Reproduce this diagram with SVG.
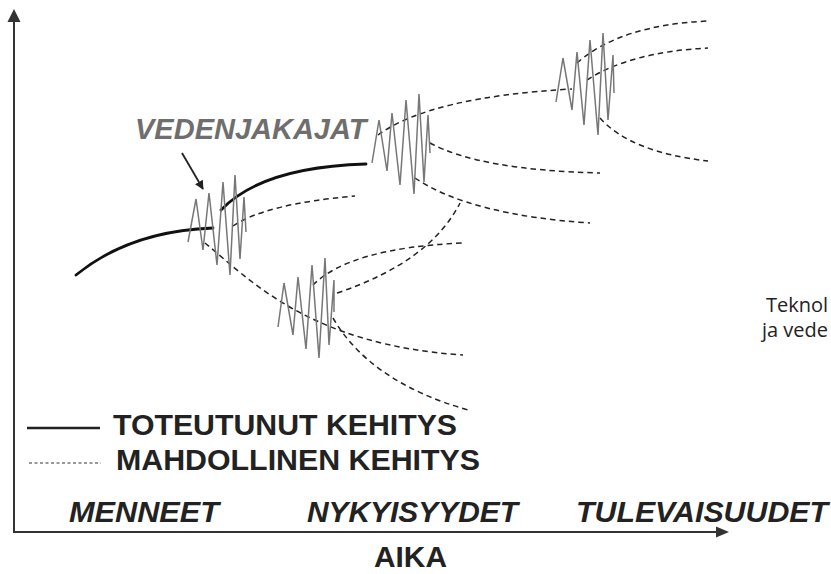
<svg xmlns="http://www.w3.org/2000/svg" width="831" height="574" viewBox="0 0 831 574">
  <defs>
    <marker id="arrowSmall" viewBox="0 0 10 10" refX="9" refY="5" markerWidth="5" markerHeight="5" orient="auto">
      <path d="M0,0 L10,5 L0,10 z" fill="#222"/>
    </marker>
    <style>
      .axis { stroke: #333; stroke-width: 2; fill: none; }
      .actual { stroke: #111; stroke-width: 2.8; fill: none; stroke-linecap: round; }
      .possible { stroke: #222; stroke-width: 1.5; fill: none; stroke-dasharray: 5.5 4; }
      .split { stroke: #777; stroke-width: 1.5; fill: none; stroke-linejoin: miter; }
      .big { font-family: "Liberation Sans", Arial, sans-serif; font-weight: bold; font-size: 29px; fill: #222; }
      .era { font-style: italic; }
      .note { font-family: "Open Sans", "Noto Sans", sans-serif; font-size: 20px; fill: #222; }
    </style>
  </defs>

  <rect width="831" height="574" fill="#fff"/>

  <!-- axes -->
  <g id="axes">
    <line class="axis" x1="14" y1="533" x2="14" y2="20"/>
    <polygon points="14,9 7.5,22 20.5,22" fill="#333"/>
    <line class="axis" x1="13" y1="532" x2="718" y2="532"/>
    <polygon points="729,532 716,526.5 716,537.5" fill="#333"/>
  </g>

  <!-- connectors: realised and possible development paths -->
  <g id="connectors">
    <!-- realised development -->
    <path class="actual" d="M76,275 Q130,231 213,228"/>
    <path class="actual" d="M221,210 Q262,167 366,164"/>

    <!-- possible paths from first divide -->
    <path class="possible" d="M233,226 Q265,204 355,196"/>
    <path class="possible" d="M205,243 C250,280 310,345 463,355"/>

    <!-- possible paths from lower divide -->
    <path class="possible" d="M313,285 Q350,248 462,243"/>
    <path class="possible" d="M337,293 Q430,262 460,203"/>
    <path class="possible" d="M333,318 Q370,382 468,410"/>

    <!-- possible paths from second divide -->
    <path class="possible" d="M378,135 Q430,97 572,89"/>
    <path class="possible" d="M430,143 Q480,170 600,173"/>
    <path class="possible" d="M415,178 Q470,215 590,223"/>

    <!-- possible paths from third divide -->
    <path class="possible" d="M577,63 Q620,25 708,21"/>
    <path class="possible" d="M587,80 Q630,52 708,48"/>
    <path class="possible" d="M600,118 Q630,152 708,161"/>

    <!-- pointer to the divide -->
    <line x1="182" y1="153" x2="203" y2="189" stroke="#222" stroke-width="1.8" marker-end="url(#arrowSmall)"/>
  </g>

  <!-- watershed zigzags -->
  <g id="divide-1">
    <polyline class="split" points="188,242 196,199 203,250 209,193 217,265 223,182 230,275 235,175 240,259 244,197 246,232"/>
  </g>
  <g id="divide-2">
    <polyline class="split" points="372,163 379,120 387,171 392,113 400,185 406,100 414,194 419,94 424,182 428,115 430,153"/>
  </g>
  <g id="divide-3">
    <polyline class="split" points="556,102 563,58 572,110 577,52 584,125 590,40 598,135 603,33 608,120 613,55 614,93"/>
  </g>
  <g id="divide-4">
    <polyline class="split" points="278,327 284,283 293,335 298,277 306,349 312,265 319,358 325,258 329,345 334,280 334,312"/>
  </g>

  <!-- label for divides -->
  <g id="label-divides">
    <text class="big era" x="135" y="139" style="fill:#6e6e6e">VEDENJAKAJAT</text>
  </g>

  <!-- legend -->
  <g id="legend">
    <line x1="27" y1="428" x2="100" y2="428" stroke="#222" stroke-width="2.4"/>
    <text class="big" x="113" y="435" textLength="344" lengthAdjust="spacingAndGlyphs">TOTEUTUNUT KEHITYS</text>
    <line x1="29" y1="463" x2="101" y2="463" stroke="#333" stroke-width="1" stroke-dasharray="3 2.5"/>
    <text class="big" x="116" y="470" textLength="364" lengthAdjust="spacingAndGlyphs">MAHDOLLINEN KEHITYS</text>
  </g>

  <!-- time periods -->
  <g id="periods">
    <text class="big era" x="69" y="522" textLength="150" lengthAdjust="spacingAndGlyphs">MENNEET</text>
    <text class="big era" x="307" y="522" textLength="211" lengthAdjust="spacingAndGlyphs">NYKYISYYDET</text>
    <text class="big era" x="576" y="522" textLength="252" lengthAdjust="spacingAndGlyphs">TULEVAISUUDET</text>
    <text class="big" x="374" y="567" font-size="28" textLength="73" lengthAdjust="spacingAndGlyphs">AIKA</text>
  </g>

  <!-- side caption -->
  <g id="caption">
    <text class="note" x="766" y="312">Teknol</text>
    <text class="note" x="762" y="337">ja vede</text>
  </g>
</svg>
